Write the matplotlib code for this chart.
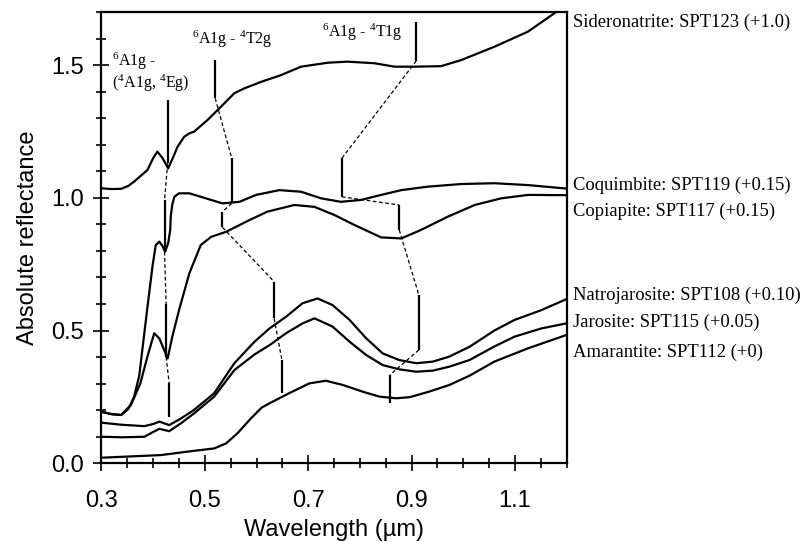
import matplotlib
matplotlib.use("Agg")
import matplotlib.pyplot as plt
from matplotlib.ticker import MultipleLocator, FixedLocator, FormatStrFormatter

plt.rcParams['mathtext.fontset'] = 'custom'
plt.rcParams['mathtext.rm'] = 'Liberation Serif'
plt.rcParams['mathtext.it'] = 'Liberation Serif:italic'

# ---------------- data (wavelength in um, reflectance with offsets) -------------
sideronatrite_x = [0.300, 0.320, 0.338, 0.352, 0.363, 0.389, 0.400, 0.408, 0.418, 0.429, 0.438, 0.447, 0.460,
                   0.470, 0.479, 0.505, 0.531, 0.557, 0.576, 0.609, 0.647, 0.686, 0.738,
                   0.776, 0.828, 0.867, 0.905, 0.957, 0.996, 1.060, 1.125, 1.176, 1.199]
sideronatrite_y = [1.036, 1.033, 1.034, 1.045, 1.061, 1.105, 1.150, 1.174, 1.150, 1.111, 1.150, 1.192, 1.230,
                   1.243, 1.249, 1.293, 1.343, 1.394, 1.412, 1.437, 1.462, 1.494, 1.509,
                   1.513, 1.507, 1.494, 1.494, 1.496, 1.519, 1.569, 1.626, 1.695, 1.730]

coquimbite_x = [0.300, 0.320, 0.338, 0.352, 0.363, 0.373, 0.389, 0.399, 0.405, 0.412, 0.418,
                0.423, 0.429, 0.433, 0.434, 0.437, 0.441, 0.450, 0.470, 0.502, 0.534,
                0.567, 0.599, 0.644, 0.686, 0.725, 0.763, 0.802, 0.841, 0.880, 0.931,
                0.996, 1.060, 1.125, 1.199]
coquimbite_y = [0.194, 0.185, 0.182, 0.205, 0.250, 0.330, 0.590, 0.747, 0.822, 0.835, 0.818,
                0.797, 0.829, 0.880, 0.930, 0.975, 1.004, 1.017, 1.017, 0.998, 0.979,
                0.985, 1.011, 1.029, 1.023, 0.998, 0.985, 0.992, 1.011, 1.029, 1.042,
                1.052, 1.055, 1.048, 1.035]

copiapite_x = [0.300, 0.320, 0.338, 0.357, 0.375, 0.390, 0.402, 0.412, 0.428, 0.437, 0.450,
               0.470, 0.492, 0.512, 0.541, 0.586, 0.621, 0.673, 0.712, 0.751, 0.789,
               0.841, 0.880, 0.918, 0.970, 1.022, 1.073, 1.125, 1.199]
copiapite_y = [0.194, 0.185, 0.182, 0.220, 0.300, 0.410, 0.490, 0.470, 0.395, 0.477, 0.577,
               0.716, 0.822, 0.853, 0.872, 0.916, 0.948, 0.973, 0.966, 0.935, 0.898,
               0.851, 0.847, 0.879, 0.929, 0.973, 0.998, 1.011, 1.010]

natrojarosite_x = [0.300, 0.340, 0.383, 0.400, 0.412, 0.431, 0.454, 0.479, 0.518, 0.557, 0.596,
                   0.625, 0.657, 0.689, 0.718, 0.747, 0.780, 0.812, 0.844, 0.876, 0.909,
                   0.941, 0.973, 1.012, 1.060, 1.099, 1.151, 1.199]
natrojarosite_y = [0.153, 0.145, 0.140, 0.148, 0.157, 0.144, 0.169, 0.201, 0.264, 0.377, 0.458,
                   0.508, 0.552, 0.603, 0.621, 0.596, 0.540, 0.471, 0.414, 0.389, 0.377,
                   0.383, 0.402, 0.439, 0.500, 0.540, 0.577, 0.618]

jarosite_x = [0.300, 0.340, 0.383, 0.400, 0.412, 0.431, 0.454, 0.479, 0.518, 0.557, 0.596,
              0.625, 0.657, 0.689, 0.712, 0.747, 0.780, 0.812, 0.844, 0.876, 0.909,
              0.941, 0.973, 1.012, 1.060, 1.099, 1.151, 1.199]
jarosite_y = [0.100, 0.098, 0.100, 0.118, 0.130, 0.121, 0.151, 0.188, 0.251, 0.351, 0.410,
              0.445, 0.490, 0.527, 0.546, 0.515, 0.458, 0.408, 0.370, 0.354, 0.345,
              0.349, 0.364, 0.389, 0.440, 0.477, 0.508, 0.527]

amarantite_x = [0.300, 0.415, 0.479, 0.518, 0.541, 0.563, 0.589, 0.610, 0.625, 0.663, 0.702,
                0.734, 0.767, 0.805, 0.838, 0.870, 0.896, 0.934, 0.973, 1.012, 1.060, 1.125, 1.199]
amarantite_y = [0.021, 0.031, 0.047, 0.056, 0.075, 0.113, 0.169, 0.210, 0.226, 0.264, 0.301,
                0.311, 0.295, 0.270, 0.251, 0.245, 0.249, 0.270, 0.295, 0.330, 0.383, 0.433, 0.483]

series_labels = ["Sideronatrite: SPT123 (+1.0)", "Coquimbite: SPT119 (+0.15)",
                 "Copiapite: SPT117 (+0.15)", "Natrojarosite: SPT108 (+0.10)",
                 "Jarosite: SPT115 (+0.05)", "Amarantite: SPT112 (+0)"]
label_y = [1.662, 1.048, 0.950, 0.634, 0.532, 0.419]

# absorption band marker chains: (x, y) points; segments alternate solid / dashed
band_4A1g_x = [0.428, 0.428, 0.422, 0.422, 0.425, 0.425, 0.431, 0.431]
band_4A1g_y = [1.368, 1.130, 0.992, 0.797, 0.600, 0.401, 0.301, 0.176]
band_4T2g_x = [0.520, 0.520, 0.552, 0.552, 0.534, 0.534, 0.634, 0.634, 0.649, 0.649]
band_4T2g_y = [1.519, 1.375, 1.149, 0.979, 0.948, 0.889, 0.684, 0.546, 0.389, 0.264]
band_4T1g_x = [0.909, 0.909, 0.765, 0.765, 0.876, 0.876, 0.914, 0.914, 0.858, 0.858]
band_4T1g_y = [1.663, 1.516, 1.149, 1.004, 0.973, 0.879, 0.634, 0.427, 0.333, 0.228]

band_texts = [r"$^{6}$A1g - $^{4}$T1g", r"$^{6}$A1g - $^{4}$T2g", r"$^{6}$A1g -", r"($^{4}$A1g, $^{4}$Eg)"]
band_text_x = [0.727, 0.476, 0.321, 0.321]
band_text_y = [1.605, 1.579, 1.496, 1.412]

x_major = [0.3, 0.5, 0.7, 0.9, 1.1]
y_major = [0.0, 0.5, 1.0, 1.5]

# ---------------- figure ----------------
fig = plt.figure(figsize=(8.04, 5.42), dpi=100)
ax = fig.add_axes([101.5 / 804, (542 - 463.3) / 542, (566.7 - 101.5) / 804, (463.3 - 12) / 542])

lw = 1.6
for xs, ys in [(sideronatrite_x, sideronatrite_y), (coquimbite_x, coquimbite_y),
               (copiapite_x, copiapite_y), (natrojarosite_x, natrojarosite_y),
               (jarosite_x, jarosite_y), (amarantite_x, amarantite_y)]:
    ax.plot(xs, ys, color='black', lw=lw, solid_joinstyle='round')

for bx, by in [(band_4A1g_x, band_4A1g_y), (band_4T2g_x, band_4T2g_y), (band_4T1g_x, band_4T1g_y)]:
    for i in range(len(bx) - 1):
        if i % 2 == 0:
            ax.plot(bx[i:i + 2], by[i:i + 2], color='black', lw=1.6, solid_capstyle='butt')
        else:
            ax.plot(bx[i:i + 2], by[i:i + 2], color='black', lw=0.9, linestyle=(0, (3, 2)))

for t, tx, ty in zip(band_texts, band_text_x, band_text_y):
    ax.text(tx, ty, t, fontsize=11.5, family='Liberation Serif', ha='left', va='baseline')

for lab, ly in zip(series_labels, label_y):
    ax.text(1.212, ly, lab, fontsize=13.4, family='Liberation Serif', ha='left', va='center',
            clip_on=False)

ax.set_xlim(0.3, 1.2)
ax.set_ylim(0.0, 1.7)
ax.xaxis.set_major_locator(FixedLocator(x_major))
ax.xaxis.set_minor_locator(MultipleLocator(0.05))
ax.yaxis.set_major_locator(FixedLocator(y_major))
ax.yaxis.set_minor_locator(MultipleLocator(0.1))
ax.xaxis.set_major_formatter(FormatStrFormatter('%.1f'))
ax.yaxis.set_major_formatter(FormatStrFormatter('%.1f'))

for s in ax.spines.values():
    s.set_linewidth(1.6)
ax.tick_params(which='major', direction='inout', length=11, width=1.2, labelsize=17)
ax.tick_params(which='minor', direction='inout', length=7.5, width=1.2)
ax.tick_params(axis='x', which='major', pad=14)
ax.tick_params(axis='y', which='major', pad=7)
for lab in ax.get_xticklabels() + ax.get_yticklabels():
    lab.set_family('Liberation Sans')

ax.set_xlabel("Wavelength (µm)", fontsize=17, family='Liberation Sans', labelpad=5)
ax.set_ylabel("Absolute reflectance", fontsize=17, family='Liberation Sans', labelpad=9)

fig.savefig("out.png", dpi=100)
